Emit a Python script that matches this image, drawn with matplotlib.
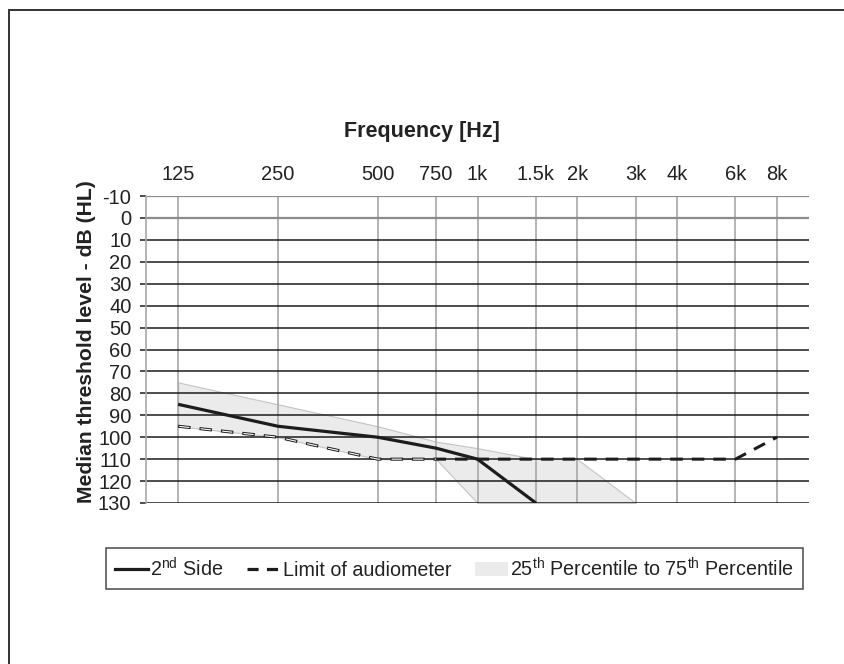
import matplotlib
matplotlib.use("Agg")
import matplotlib.pyplot as plt
from matplotlib.lines import Line2D
from matplotlib.patches import Patch, Rectangle

plt.rcParams['font.family'] = ['Liberation Sans', 'DejaVu Sans']
plt.rcParams['mathtext.fontset'] = 'custom'
plt.rcParams['mathtext.rm'] = 'Liberation Sans'
plt.rcParams['lines.scale_dashes'] = False
plt.rcParams['axes.unicode_minus'] = False

# Audiogram data (frequency in Hz, threshold in dB HL)
tick_freqs = [125, 250, 500, 750, 1000, 1500, 2000, 3000, 4000, 6000, 8000]
tick_labels = ['125', '250', '500', '750', '1k', '1.5k', '2k', '3k', '4k', '6k', '8k']

side_freqs = [125, 250, 500, 750, 1000, 1500]
side_db = [85, 95, 100, 105, 110, 130]

limit_freqs = [125, 250, 500, 750, 1000, 1500, 2000, 3000, 4000, 6000, 8000]
limit_db = [95, 100, 110, 110, 110, 110, 110, 110, 110, 110, 100]

pct_freqs = [125, 250, 500, 750, 1000, 1500, 2000, 3000]
pct25_db = [75, 85, 95, 102, 105, 110, 110, 130]
pct75_db = [95, 100, 110, 110, 130, 130, 130, 130]

yticks = list(range(-10, 131, 10))

TEXT = '#222222'
DARK = '#1c1c1c'
GRID_V = '#a8a8a8'

fig = plt.figure(figsize=(8.44, 6.64), dpi=100)
W, H = 844, 664
ax = fig.add_axes([146 / W, 1 - 503 / H, (809 - 146) / W, (503 - 196) / H])

# percentile band
ax.fill_between(pct_freqs, pct25_db, pct75_db, facecolor='#ebebeb',
                edgecolor='#c4c4c4', linewidth=0.8, zorder=1)

# limit of audiometer (outlined dashes on the low-frequency part)
dash = (0, (9.0, 6.5))
ax.plot(limit_freqs, limit_db, color=DARK, lw=2.2, linestyle=dash, zorder=3)
ax.plot(limit_freqs[:4], limit_db[:4], color='white', lw=0.8,
        linestyle=(-0.8, (7.4, 8.1)), zorder=3.1)

# 2nd side median
ax.plot(side_freqs, side_db, color=DARK, lw=2.3, solid_capstyle='butt', zorder=4)

ax.set_xscale('log')
ax.set_xlim(100, 10000)
ax.set_ylim(130, -10)
ax.minorticks_off()
ax.set_xticks(tick_freqs)
ax.set_xticklabels(tick_labels)
ax.set_yticks(yticks)
ax.xaxis.tick_top()
ax.tick_params(axis='x', length=0, pad=9, labelsize=14.5, labelcolor=TEXT)
ax.tick_params(axis='y', length=4.5, width=1.1, color=DARK, pad=6,
               labelsize=14.5, labelcolor=TEXT)

ax.grid(axis='x', color=GRID_V, lw=1.2)
ax.grid(axis='y', color=DARK, lw=1.1)
for i, gl in enumerate(ax.yaxis.get_gridlines()):
    if yticks[i] <= 0:
        gl.set_color('#8c8c8c')
        gl.set_linewidth(1.6)
for i, t in enumerate(ax.yaxis.get_major_ticks()):
    if yticks[i] <= 0:
        t.tick1line.set_color('#8c8c8c')

for side in ['top', 'right', 'bottom']:
    ax.spines[side].set_visible(False)
ax.spines['left'].set_color(GRID_V)
ax.spines['left'].set_linewidth(1.2)

fig.text(0.5, 1 - 131 / H, 'Frequency [Hz]', ha='center', va='center',
         fontsize=15.5, fontweight='bold', color=TEXT)
fig.text(87 / W, 1 - 342 / H, 'Median threshold level - dB (HL)', ha='center',
         va='center', rotation=90, fontsize=15.2, fontweight='bold', color=TEXT)

handles = [
    Line2D([], [], color=DARK, lw=2.3),
    Line2D([], [], color=DARK, lw=2.3, linestyle=(0, (8, 6))),
    Patch(facecolor='#ebebeb', edgecolor='none'),
]
labels = [r'2$^{\mathrm{nd}}$ Side', 'Limit of audiometer',
          r'25$^{\mathrm{th}}$ Percentile to 75$^{\mathrm{th}}$ Percentile']
leg = fig.legend(handles, labels, loc='center', ncol=3,
                 bbox_to_anchor=((100 + 809) / 2 / W, 1 - 568.5 / H),
                 frameon=True, fancybox=False, edgecolor=DARK, fontsize=14.2,
                 handlelength=1.7, handletextpad=0.1, columnspacing=1.2,
                 borderpad=0.45, borderaxespad=0)
leg.get_frame().set_linewidth(1.1)
for t in leg.get_texts():
    t.set_color(TEXT)

# outer frame
fig.patches.append(Rectangle((9 / W, -0.1), 1.2, 1.1 - 10 / H, transform=fig.transFigure,
                             fill=False, edgecolor='#333333', lw=1.4))

fig.savefig('out.png', dpi=100)
